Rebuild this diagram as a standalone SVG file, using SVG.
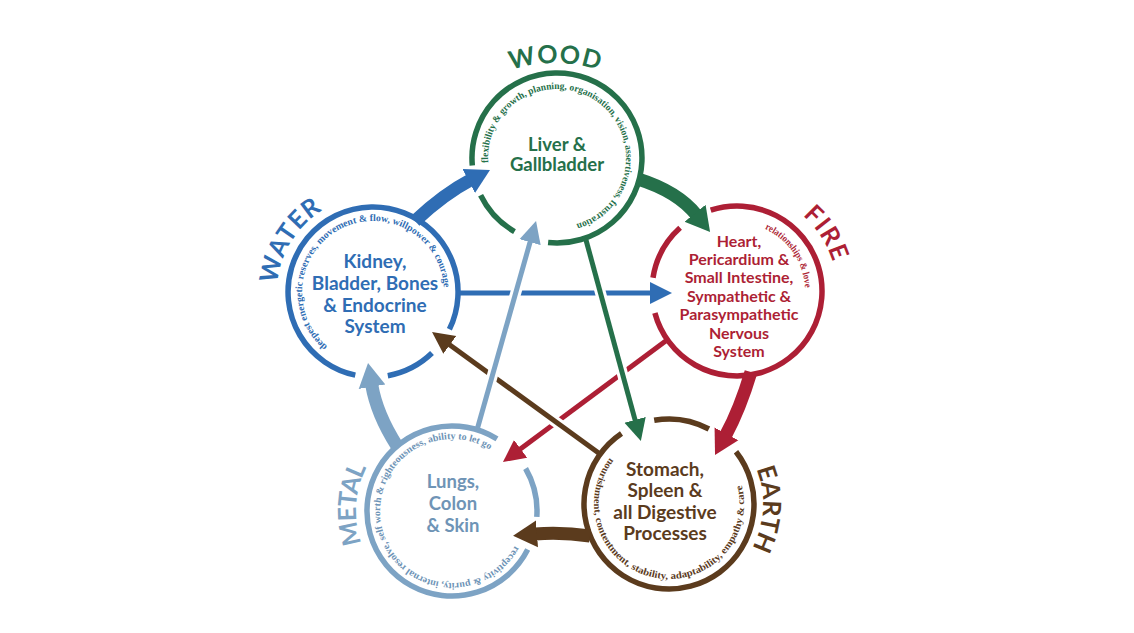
<svg xmlns="http://www.w3.org/2000/svg" xmlns:xlink="http://www.w3.org/1999/xlink" width="1134" height="633" viewBox="0 0 1134 633">
<style>
.ring{fill:none;stroke-width:5.5}
.lbl{font-family:Lato,"Open Sans","Liberation Sans",sans-serif;font-weight:700;text-anchor:middle}
.arc{font-family:"Liberation Serif","DejaVu Serif",serif;font-size:9.8px;font-weight:700}
.out{font-family:Lato,"Open Sans","Liberation Sans",sans-serif;font-weight:700;font-size:25px;text-anchor:middle}
.thin{fill:none;stroke-width:5}
.thick{fill:none;stroke-width:13}
.halo{fill:none;stroke:#fff;stroke-width:11}
.wood{stroke:#25704a;fill:#25704a}
.fire{stroke:#ad1f35;fill:#ad1f35}
.earth{stroke:#5b3b1d;fill:#5b3b1d}
.metal{stroke:#7da3c4;fill:#7da3c4}
.water{stroke:#2f6db4;fill:#2f6db4}
</style>
<defs>
<marker id="tn-water" markerUnits="userSpaceOnUse" markerWidth="24" markerHeight="24" viewBox="0 0 24 24" refX="2" refY="12" orient="auto"><path d="M0,1 L22,12 L0,23 z" fill="#2f6db4"/></marker>
<marker id="tn-wood" markerUnits="userSpaceOnUse" markerWidth="24" markerHeight="24" viewBox="0 0 24 24" refX="2" refY="12" orient="auto"><path d="M0,1 L22,12 L0,23 z" fill="#25704a"/></marker>
<marker id="tn-fire" markerUnits="userSpaceOnUse" markerWidth="24" markerHeight="24" viewBox="0 0 24 24" refX="2" refY="12" orient="auto"><path d="M0,1 L22,12 L0,23 z" fill="#ad1f35"/></marker>
<marker id="tn-earth" markerUnits="userSpaceOnUse" markerWidth="24" markerHeight="24" viewBox="0 0 24 24" refX="2" refY="12" orient="auto"><path d="M0,1 L22,12 L0,23 z" fill="#5b3b1d"/></marker>
<marker id="tn-metal" markerUnits="userSpaceOnUse" markerWidth="24" markerHeight="24" viewBox="0 0 24 24" refX="2" refY="12" orient="auto"><path d="M0,1 L22,12 L0,23 z" fill="#7da3c4"/></marker>
<marker id="tk-water" markerUnits="userSpaceOnUse" markerWidth="26" markerHeight="30" viewBox="0 0 26 30" refX="2" refY="15" orient="auto"><path d="M0,1.5 L24,15 L0,28.5 z" fill="#2f6db4"/></marker>
<marker id="tk-wood" markerUnits="userSpaceOnUse" markerWidth="26" markerHeight="30" viewBox="0 0 26 30" refX="2" refY="15" orient="auto"><path d="M0,1.5 L24,15 L0,28.5 z" fill="#25704a"/></marker>
<marker id="tk-fire" markerUnits="userSpaceOnUse" markerWidth="26" markerHeight="30" viewBox="0 0 26 30" refX="2" refY="15" orient="auto"><path d="M0,1.5 L24,15 L0,28.5 z" fill="#ad1f35"/></marker>
<marker id="tk-earth" markerUnits="userSpaceOnUse" markerWidth="26" markerHeight="30" viewBox="0 0 26 30" refX="2" refY="15" orient="auto"><path d="M0,1.5 L24,15 L0,28.5 z" fill="#5b3b1d"/></marker>
<marker id="tk-metal" markerUnits="userSpaceOnUse" markerWidth="26" markerHeight="30" viewBox="0 0 26 30" refX="2" refY="15" orient="auto"><path d="M0,1.5 L24,15 L0,28.5 z" fill="#7da3c4"/></marker>
<path id="t-wood" d="M488.2,162.8 A69,69 0 1 1 574.9,224.6"/>
<path id="t-fire" d="M764.7,228.9 A68,68 0 0 1 805.0,288.6"/>
<path id="t-earth" d="M609.9,457.8 A75,75 0 1 0 741.1,483.3"/>
<path id="t-metal" d="M515.0,545.9 A72,72 0 1 1 491.2,450.6"/>
<path id="t-water" d="M327.4,346.4 A71,71 0 1 1 444.0,289.5"/>
<path id="o-wood" d="M486.5,81.4 A137,137 0 0 1 623.5,81.4"/>
<path id="o-fire" d="M782.4,201.9 A100,100 0 0 1 836.9,285.8"/>
<path id="o-earth" d="M750.4,457 A94,94 0 0 1 745.0,559.3"/>
<path id="o-metal" d="M368.9,559 A96,96 0 0 1 375.7,452.7"/>
<path id="o-water" d="M277.1,295.4 A96,96 0 0 1 332.4,205.0"/>
</defs>
<rect width="1134" height="633" fill="#fff"/>

<g id="node-wood">
<path class="ring wood" style="fill:none" d="M472.3,165.4 A85,85 0 1 1 548.1,242.5 M514.5,231.6 A85,85 0 0 1 480.6,195.3"/>
<text class="out" fill="#25704a"><textPath xlink:href="#o-wood" href="#o-wood" startOffset="50%" textLength="89" lengthAdjust="spacing">WOOD</textPath></text>
<text class="arc" fill="#25704a"><textPath xlink:href="#t-wood" href="#t-wood" textLength="310" lengthAdjust="spacingAndGlyphs">flexibility &amp; growth, planning, organisation, vision, assertiveness, frustration</textPath></text>
<text class="lbl" fill="#25704a" font-size="18.5"><tspan x="557" y="150.5">Liver &amp;</tspan><tspan x="557" y="171">Gallbladder</tspan></text>
</g>

<g id="node-fire">
<path class="ring fire" style="fill:none" d="M653.0,277.7 A85,85 0 0 1 680.1,227.8 M710.7,210.2 A85,85 0 1 1 654.9,313.0"/>
<text class="out" fill="#ad1f35"><textPath xlink:href="#o-fire" href="#o-fire" startOffset="50%" textLength="56" lengthAdjust="spacing">FIRE</textPath></text>
<text class="arc" fill="#ad1f35"><textPath xlink:href="#t-fire" href="#t-fire" textLength="75" lengthAdjust="spacingAndGlyphs">relationships &amp; love</textPath></text>
<text class="lbl" fill="#ad1f35" font-size="16"><tspan x="739" y="246.5">Heart,</tspan><tspan x="739" y="264.9">Pericardium &amp;</tspan><tspan x="739" y="283.3">Small Intestine,</tspan><tspan x="739" y="301.7">Sympathetic &amp;</tspan><tspan x="739" y="320.1">Parasympathetic</tspan><tspan x="739" y="338.5">Nervous</tspan><tspan x="739" y="356.9">System</tspan></text>
</g>

<g id="node-earth">
<path class="ring earth" style="fill:none" d="M654.2,420.3 A85,85 0 0 1 708.9,429.0 M736.0,451.7 A85,85 0 1 1 621.5,433.5"/>
<text class="out" fill="#5b3b1d"><textPath xlink:href="#o-earth" href="#o-earth" startOffset="50%" textLength="82" lengthAdjust="spacing">EARTH</textPath></text>
<text class="arc" fill="#5b3b1d"><textPath xlink:href="#t-earth" href="#t-earth" textLength="304" lengthAdjust="spacingAndGlyphs">nourishment, contentment, stability, adaptability, empathy &amp; care</textPath></text>
<text class="lbl" fill="#5b3b1d" font-size="19"><tspan x="665" y="476">Stomach,</tspan><tspan x="665" y="497.3">Spleen &amp;</tspan><tspan x="665" y="518.6">all Digestive</tspan><tspan x="665" y="540">Processes</tspan></text>
</g>

<g id="node-metal">
<path class="ring metal" style="fill:none" d="M527.7,549.6 A85,85 0 1 1 497.0,438.9 M525.6,468.5 A85,85 0 0 1 536.8,516.9"/>
<text class="out" fill="#7da3c4"><textPath xlink:href="#o-metal" href="#o-metal" startOffset="50%" textLength="78" lengthAdjust="spacing">METAL</textPath></text>
<text class="arc" fill="#6d93b6"><textPath xlink:href="#t-metal" href="#t-metal" textLength="342" lengthAdjust="spacingAndGlyphs">receptivity &amp; purity, internal resolve, self worth &amp; righteousness, ability to let go</textPath></text>
<text class="lbl" fill="#6f94b6" font-size="18.5"><tspan x="453" y="488">Lungs,</tspan><tspan x="453" y="510">Colon</tspan><tspan x="453" y="532">&amp; Skin</tspan></text>
</g>

<g id="node-water">
<path class="ring water" style="fill:none" d="M432.0,353.1 A85,85 0 0 1 387.8,375.7 M355.3,375.1 A85,85 0 1 1 449.4,329.3"/>
<text class="out" fill="#2f6db4"><textPath xlink:href="#o-water" href="#o-water" startOffset="50%" textLength="89" lengthAdjust="spacing">WATER</textPath></text>
<text class="arc" fill="#2f6db4"><textPath xlink:href="#t-water" href="#t-water" textLength="280" lengthAdjust="spacingAndGlyphs">deepest energetic reserves, movement &amp; flow, willpower &amp; courage</textPath></text>
<text class="lbl" fill="#2f6db4" font-size="19"><tspan x="375" y="268.3">Kidney,</tspan><tspan x="375" y="290">Bladder, Bones</tspan><tspan x="375" y="311.5">&amp; Endocrine</tspan><tspan x="375" y="333">System</tspan></text>
</g>

<g id="connectors">
<path class="thick water" style="fill:none" d="M415,221 Q444,194 470.5,180.1" marker-end="url(#tk-water)"/>
<path class="thick wood" style="fill:none" d="M638,179 Q677.5,191.4 696.3,214.8" marker-end="url(#tk-wood)"/>
<path class="thick fire" style="fill:none" d="M751,372 Q739.8,409.3 725.5,435.7" marker-end="url(#tk-fire)"/>
<path class="thick earth" style="fill:none" d="M590,536 Q562,532 535,534" marker-end="url(#tk-earth)"/>
<path class="thick metal" style="fill:none" d="M397,446 Q376.7,414.3 371.7,384.7" marker-end="url(#tk-metal)"/>

<path class="thin fire" style="fill:none" d="M667,340 L519,450.1" marker-end="url(#tn-fire)"/>
<path class="halo" d="M588.6,445.8 L452.3,346.6"/>
<path class="thin earth" style="fill:none" d="M600,454 L448.2,343.7" marker-end="url(#tn-earth)"/>
<path class="thin water" style="fill:none" d="M458,293 L652,293" marker-end="url(#tn-water)"/>
<path class="halo" d="M480.8,416.5 L527.9,249.8"/>
<path class="thin metal" style="fill:none" d="M477,430 L530.6,240.2" marker-end="url(#tn-metal)"/>
<path class="halo" d="M589.8,253.5 L632.9,412.2"/>
<path class="thin wood" style="fill:none" d="M586,240 L635.6,421.8" marker-end="url(#tn-wood)"/>
</g>
</svg>
